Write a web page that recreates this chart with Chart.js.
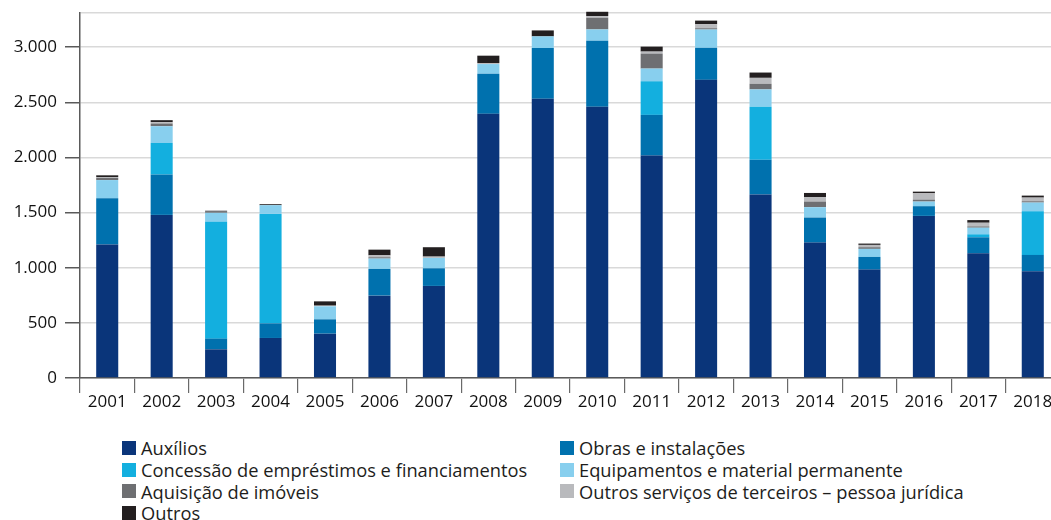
<!DOCTYPE html>
<html>
<head>
<meta charset="utf-8">
<script src="https://cdn.jsdelivr.net/npm/chart.js@4.4.1/dist/chart.umd.min.js"></script>
<style>
  html, body { margin: 0; padding: 0; background: #ffffff; overflow: hidden; width: 1051px; height: 520px; }
  #wrap { position: absolute; left: 0; top: 0; width: 1062px; height: 420px; }
  #legend { position: absolute; left: 122px; top: 437px; display: grid; grid-template-columns: 438px auto; grid-auto-rows: 21.7px;
            font-family: 'Open Sans', sans-serif; font-size: 18.3px; color: #1d1d1b; }
  .item { display: flex; align-items: center; white-space: nowrap; }
  .box { width: 14px; height: 14px; margin-right: 5px; flex: none; }
</style>
</head>
<body>
<div id="wrap"><canvas id="c" width="1062" height="420"></canvas></div>
<div id="legend"></div>
<script>
// ---- Data ----
const years = ['2001','2002','2003','2004','2005','2006','2007','2008','2009','2010','2011','2012','2013','2014','2015','2016','2017','2018'];

const auxilios    = [1210,1479, 260, 363, 402, 747, 835,2396,2532,2459,2017,2704,1664,1228, 983,1470,1131, 968];
const obras       = [ 420, 366,  97, 133, 130, 242, 160, 363, 460, 599, 369, 290, 315, 227, 115,  88, 145, 148];
const concessao   = [   0, 287,1059, 992,   0,   0,   0,   0,   0,   0, 305,   0, 481,   0,   0,   0,  27, 396];
const equipamentos= [ 165, 151,  82,  79, 118,  94,  94,  88, 106, 103, 115, 166, 157,  94,  73,  42,  60,  79];
const aquisicao   = [  20,  25,  16,   0,   0,  12,   0,   0,   0, 106, 136,  12,  51,  51,  15,  18,  12,  12];
const outrosServ  = [   8,  12,   8,   0,   6,  18,  12,   9,   0,  15,  18,  36,  54,  39,  21,  57,  33,  33];
const outros      = [  15,  18,   0,   9,  39,  51,  85,  67,  54,  39,  45,  33,  48,  39,  12,  15,  24,  18];

const seriesNames = ['Auxílios','Obras e instalações','Concessão de empréstimos e financiamentos','Equipamentos e material permanente','Aquisição de imóveis','Outros serviços de terceiros – pessoa jurídica','Outros'];
const seriesData  = [auxilios, obras, concessao, equipamentos, aquisicao, outrosServ, outros];
const seriesColors= ['#0a357a','#0071ae','#13afdf','#88cfee','#6e6f72','#b9babd','#231f20'];

const yTickValues = [0,500,1000,1500,2000,2500,3000];
const yTickLabels = ['0','500','1.000','1.500','2.000','2.500','3.000'];
const yMax = 3310;

// ---- Chart ----
const FONT = "'Open Sans', sans-serif";
const datasets = seriesNames.map((n,i) => ({
  label: n,
  data: seriesData[i],
  backgroundColor: seriesColors[i],
  borderWidth: 0,
  categoryPercentage: 1.0,
  barPercentage: 0.405,
  clip: false
}));

new Chart(document.getElementById('c'), {
  type: 'bar',
  data: { labels: years, datasets },
  options: {
    responsive: false,
    animation: false,
    layout: { padding: { top: 13, right: 2, left: 0, bottom: 0 } },
    plugins: { legend: { display: false }, tooltip: { enabled: false } },
    scales: {
      x: {
        stacked: true,
        afterFit: (s) => { s.height = 42; s.paddingLeft = 0; s.paddingRight = 0; },
        border: { color: '#5a5a5a', width: 1.5 },
        grid: { offset: true, drawOnChartArea: false, drawTicks: true, tickLength: 15, color: '#6a6a6a', lineWidth: 1.2 },
        ticks: { color: '#111', padding: -1, font: { family: FONT, size: 17 }, maxRotation: 0, autoSkip: false }
      },
      y: {
        stacked: true,
        min: 0,
        max: yMax,
        afterFit: (s) => { s.width = 80; s.paddingTop = 0; s.paddingBottom = 0; },
        afterBuildTicks: (s) => { s.ticks = yTickValues.concat([yMax]).map(v => ({ value: v })); },
        border: { color: '#5a5a5a', width: 1.5 },
        grid: {
          color: '#d9d9d9', lineWidth: 1.5, tickLength: 15, drawTicks: true,
          tickColor: (ctx) => (ctx.tick && ctx.tick.value === yMax) ? 'rgba(0,0,0,0)' : '#5a5a5a',
          tickWidth: 1.5
        },
        ticks: {
          color: '#111', padding: 8, font: { family: FONT, size: 17 },
          callback: (v) => { const i = yTickValues.indexOf(v); return i >= 0 ? yTickLabels[i] : ''; }
        }
      }
    }
  }
});

// ---- Legend ----
const lg = document.getElementById('legend');
seriesNames.forEach((n, i) => {
  const it = document.createElement('div');
  it.className = 'item';
  const b = document.createElement('span');
  b.className = 'box';
  b.style.background = seriesColors[i];
  const t = document.createElement('span');
  t.textContent = n;
  it.appendChild(b); it.appendChild(t);
  lg.appendChild(it);
});
</script>
</body>
</html>
